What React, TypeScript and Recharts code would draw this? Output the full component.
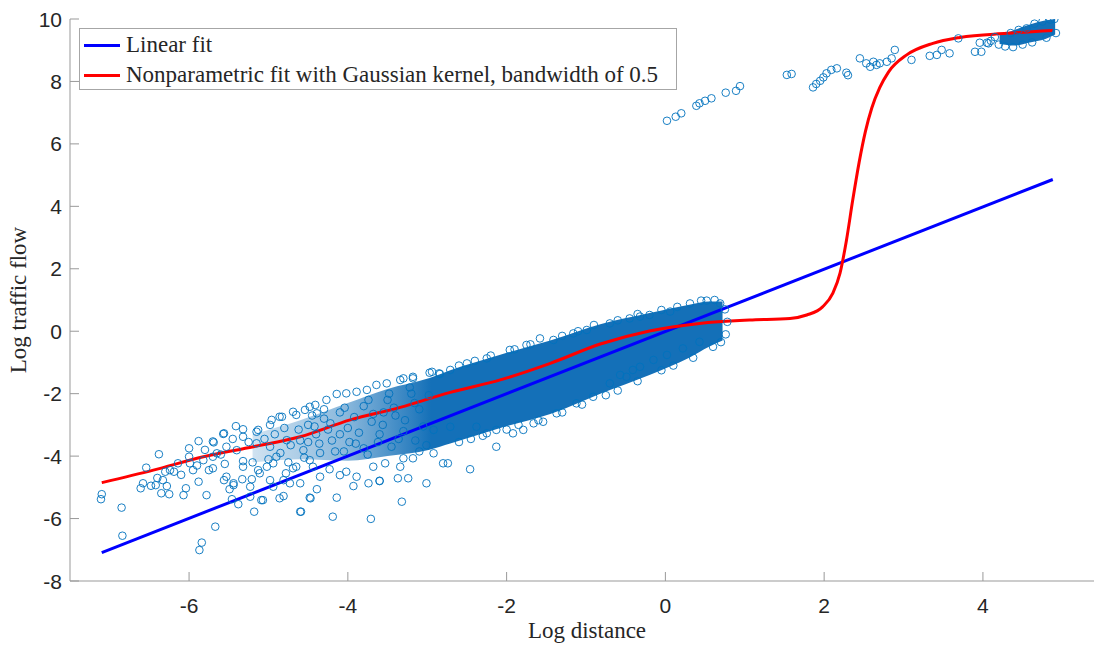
import { Area, ComposedChart, Line, Scatter, XAxis, YAxis } from "recharts";

const xTicks = [-6, -4, -2, 0, 2, 4];
const yTicks = [-8, -6, -4, -2, 0, 2, 4, 6, 8, 10];

// fitted curves
const linearFit = [
  { x: -7.1, y: -7.09 },
  { x: 4.88, y: 4.86 }
];

const kernelFit = [
  { x: -7.1, y: -4.85 }, { x: -6.45, y: -4.45 }, { x: -5.82, y: -4.02 }, { x: -5.19, y: -3.7 },
  { x: -4.6, y: -3.38 }, { x: -3.97, y: -2.84 }, { x: -3.34, y: -2.44 }, { x: -2.71, y: -1.96 },
  { x: -2.08, y: -1.56 }, { x: -1.45, y: -1.03 }, { x: -0.82, y: -0.41 }, { x: -0.2, y: 0.01 },
  { x: 0.43, y: 0.25 }, { x: 1.06, y: 0.36 }, { x: 1.57, y: 0.41 }, { x: 1.78, y: 0.52 },
  { x: 1.98, y: 0.78 }, { x: 2.11, y: 1.22 }, { x: 2.2, y: 1.86 }, { x: 2.28, y: 2.9 },
  { x: 2.36, y: 4.2 }, { x: 2.44, y: 5.4 }, { x: 2.52, y: 6.4 }, { x: 2.6, y: 7.15 },
  { x: 2.7, y: 7.8 }, { x: 2.81, y: 8.3 }, { x: 3.04, y: 8.85 }, { x: 3.37, y: 9.22 },
  { x: 3.71, y: 9.41 }, { x: 4.3, y: 9.54 }, { x: 4.88, y: 9.63 }
];

// solid core of the point cloud, [low, high]
const denseBand = [
  { x: -5.2, band: [-4.2, -3.3] }, { x: -4.6, band: [-4.1, -2.85] }, { x: -4.0, band: [-4.15, -2.3] },
  { x: -3.5, band: [-4.0, -1.85] }, { x: -2.97, band: [-3.8, -1.5] }, { x: -2.71, band: [-3.6, -1.25] },
  { x: -2.08, band: [-3.1, -0.75] }, { x: -1.45, band: [-2.65, -0.3] }, { x: -0.82, band: [-2.0, 0.22] },
  { x: -0.2, band: [-1.4, 0.58] }, { x: 0.3, band: [-0.85, 0.85] }, { x: 0.55, band: [-0.5, 0.95] },
  { x: 0.72, band: [-0.3, 0.95] }
];

const topBand = [
  { x: 4.21, band: [9.2, 9.5] }, { x: 4.4, band: [9.15, 9.65] }, { x: 4.59, band: [9.25, 9.82] },
  { x: 4.78, band: [9.35, 9.95] }, { x: 4.91, band: [9.5, 10.0] }
];

// individual circles
const lowTail = [
  [-7.11, -5.38], [-7.1, -5.22], [-6.85, -5.65], [-6.84, -6.55], [-6.61, -5.03], [-6.58, -4.87],
  [-6.54, -4.37], [-6.48, -4.95], [-6.42, -4.93], [-6.38, -3.94], [-6.35, -5.19], [-6.33, -4.77],
  [-6.28, -4.96], [-6.25, -5.22], [-6.3, -4.5], [-6.24, -4.45], [-6.19, -4.5], [-6.14, -4.23],
  [-6.07, -5.25], [-6.04, -5.03], [-6.0, -4.02], [-5.95, -4.45], [-5.88, -4.82], [-5.88, -3.52],
  [-5.84, -6.77], [-5.87, -7.01], [-5.78, -5.25], [-5.75, -4.45], [-5.7, -4.39], [-5.69, -3.56],
  [-5.67, -6.26], [-5.65, -3.91], [-5.56, -3.27], [-5.56, -4.77], [-5.53, -4.66], [-5.49, -5.06],
  [-5.46, -5.38], [-5.44, -4.93], [-5.41, -3.04], [-5.38, -5.54], [-5.33, -4.74], [-5.32, -4.16],
  [-5.23, -5.3], [-5.21, -4.74], [-5.18, -5.78], [-5.13, -4.45], [-5.09, -5.41], [-5.07, -5.41],
  [-5.02, -4.34], [-4.98, -4.77], [-4.94, -4.98], [-4.86, -5.35], [-4.81, -5.28], [-4.78, -4.55],
  [-4.73, -4.87], [-4.6, -5.78], [-4.48, -5.33], [-4.39, -5.06], [-2.46, -4.42], [-3.01, -4.87],
  [-3.32, -5.46], [-3.71, -6.01], [-4.19, -5.94], [-4.59, -5.78], [-2.13, -3.7], [-2.8, -4.23],
  [-3.37, -4.71], [-3.6, -4.8], [-3.93, -4.96], [-4.14, -5.33], [-4.47, -5.35], [-3.24, -4.71]
];

const midCloud = [
  [-5.32, -3.14], [-5.15, -3.22], [-4.98, -3.0], [-4.86, -2.74], [-4.65, -2.68], [-4.48, -2.42],
  [-4.39, -2.63], [-4.77, -3.49], [-4.56, -3.81], [-4.9, -4.02], [-4.65, -4.34], [-4.48, -4.13],
  [-4.98, -3.7], [-5.15, -3.59], [-5.4, -3.81], [-5.53, -3.7], [-5.7, -4.02], [-5.82, -4.13],
  [-5.99, -4.23], [-5.57, -3.29], [-5.7, -3.53], [-5.8, -3.8], [-5.55, -4.25], [-5.32, -3.38],
  [-5.13, -3.16], [-4.96, -2.84], [-4.83, -2.74], [-4.69, -2.58], [-4.54, -2.52], [-4.41, -2.36],
  [-4.27, -2.2], [-4.14, -2.01], [-4.02, -1.99], [-3.89, -1.94], [-3.76, -1.88], [-3.64, -1.72],
  [-3.51, -1.67], [-3.34, -1.56], [-3.18, -1.46], [-2.97, -1.33], [-2.84, -1.37], [-3.6, -4.79],
  [-3.74, -4.87], [-4.1, -4.61], [-4.35, -4.66], [-4.6, -4.87], [-4.81, -4.77], [-5.23, -4.98],
  [-5.44, -4.87], [-5.32, -4.34], [-5.11, -4.55], [-4.94, -4.23], [-4.69, -4.39], [-4.44, -4.34],
  [-4.23, -4.42], [-4.02, -4.5], [-3.89, -4.66], [-3.68, -4.34], [-3.53, -4.23], [-3.34, -4.34],
  [-3.18, -4.07], [-3.01, -3.65], [-2.74, -4.23], [-3.3, -4.07], [-2.92, -3.91], [-4.5, -3.0],
  [-4.4, -3.3], [-4.3, -2.8], [-4.2, -3.5], [-4.1, -2.6], [-4.0, -3.1], [-3.9, -3.6], [-3.8, -2.4],
  [-3.7, -2.9], [-3.6, -3.3], [-3.5, -2.2], [-3.45, -3.7], [-3.4, -2.7], [-3.3, -3.2], [-3.2, -2.0],
  [-3.15, -3.5], [-3.1, -2.5], [-4.6, -3.5], [-4.35, -3.9], [-4.05, -3.85], [-3.75, -3.95],
  [-3.55, -2.6], [-4.45, -2.7], [-4.25, -3.15], [-5.25, -3.55], [-5.05, -3.45], [-5.0, -4.1],
  [-4.92, -3.3], [-4.85, -3.9], [-4.8, -3.1], [-4.72, -3.65], [-4.62, -3.15], [-4.55, -4.05],
  [-4.5, -3.55], [-4.42, -3.05], [-4.36, -3.6], [-4.3, -2.5], [-4.22, -2.95], [-4.16, -3.85],
  [-4.1, -3.3], [-4.04, -2.45], [-3.98, -3.55], [-3.92, -2.75], [-3.86, -3.25], [-3.8, -3.75],
  [-3.74, -2.2], [-3.68, -2.65], [-3.62, -3.55], [-3.56, -3.0], [-3.48, -2.0], [-3.42, -2.45],
  [-3.36, -3.45], [-3.28, -2.85], [-3.22, -1.8], [-3.16, -2.3], [-3.1, -3.85], [-3.05, -3.05],
  [-2.98, -2.05], [-5.45, -3.45], [-5.6, -3.95], [-5.9, -4.3], [-6.1, -4.6], [-6.4, -4.7],
  [-6.0, -3.75], [-5.2, -4.2], [-4.75, -4.2]
];

const bandRim = [
  [-1.54, -2.9], [-1.92, -3.27], [-2.13, -3.16], [-2.38, -3.06], [-2.25, -3.27], [-1.37, -2.63],
  [-1.12, -2.31], [-0.91, -2.1], [-0.7, -1.67], [-0.49, -1.46], [-0.32, -1.14], [-2.71, -3.06],
  [-2.92, -3.16], [-1.66, -2.95], [-1.79, -3.16], [-1.58, -0.23], [-1.75, -0.44], [-1.96, -0.6],
  [-2.25, -0.87], [-2.5, -1.03], [-2.71, -1.24], [-2.94, -1.3], [-3.18, -1.51], [-3.3, -1.51],
  [-1.41, -0.28], [-1.16, -0.07], [-0.99, 0.04], [-0.7, 0.25], [-0.45, 0.41], [-0.32, 0.47],
  [-0.2, 0.52], [0.06, 0.63], [0.31, 0.89], [0.52, 0.98], [0.69, 0.89], [0.43, -0.34],
  [0.22, -0.55], [0.02, -0.76], [-0.15, -0.92], [-0.41, -1.24], [-0.57, -1.4],
  [-2.85, -1.35], [-2.6, -1.1], [-2.4, -0.95], [-2.2, -0.78], [-1.9, -0.58], [-1.7, -0.42],
  [-1.3, -0.15], [-1.1, 0.0], [-0.9, 0.2], [-0.6, 0.35], [-0.35, 0.55], [-0.05, 0.68],
  [0.15, 0.78], [0.45, 0.98], [0.62, 1.0], [0.75, 0.7], [0.78, 0.3], [0.76, -0.1],
  [-2.6, -3.55], [-2.45, -3.45], [-2.3, -3.35], [-2.0, -3.15], [-1.85, -3.0], [-1.6, -2.85],
  [-1.3, -2.6], [-1.05, -2.35], [-0.75, -2.05], [-0.6, -1.9], [-0.35, -1.6], [-0.05, -1.25],
  [0.1, -1.1], [0.35, -0.85], [0.6, -0.5], [0.7, -0.35]
];

const upperBranch = [
  [0.02, 6.74], [0.13, 6.87], [0.2, 6.98], [0.39, 7.22], [0.43, 7.3], [0.5, 7.38], [0.58, 7.46],
  [0.76, 7.64], [0.89, 7.7], [0.94, 7.85], [1.53, 8.21], [1.59, 8.24], [1.86, 7.81], [1.9, 7.92],
  [1.95, 8.02], [1.99, 8.13], [2.03, 8.26], [2.09, 8.37], [2.16, 8.42], [2.28, 8.28], [2.3, 8.2],
  [2.45, 8.74], [2.53, 8.58], [2.58, 8.47], [2.62, 8.63], [2.66, 8.53], [2.7, 8.58], [2.79, 8.63],
  [2.85, 8.74], [2.89, 9.01], [3.1, 8.69], [3.33, 8.82], [3.42, 8.85], [3.48, 9.01], [3.58, 8.9],
  [3.69, 9.38], [3.9, 8.95], [3.98, 8.95], [3.96, 9.24], [4.07, 9.22]
];

const topRim = [
  [4.1, 9.3], [4.15, 9.42], [4.2, 9.18], [4.28, 9.12], [4.35, 9.55], [4.45, 9.65], [4.55, 9.7],
  [4.65, 9.85], [4.75, 9.92], [4.85, 9.98], [4.9, 10.0], [4.92, 9.55], [4.5, 9.18], [4.62, 9.25],
  [4.8, 9.4], [4.38, 9.1], [4.05, 9.24]
];

const toPts = (list: number[][]) => list.map(([x, y]) => ({ x, y }));
const circles = [...lowTail, ...midCloud, ...bandRim, ...upperBranch, ...topRim];

const ptColor = "#0072BD";
const serif = "'Liberation Serif', 'Times New Roman', serif";
const sans = "'Liberation Sans', Arial, Helvetica, sans-serif";

const Ring = (p: any) => (
  <circle cx={p.cx} cy={p.cy} r={3.8} fill="none" stroke={ptColor} strokeWidth={0.9} />
);

const XTick = (p: any) => (
  <g>
    <line x1={p.x} y1={p.y} x2={p.x} y2={p.y - 9} stroke="#999" />
    <text x={p.x} y={p.y + 24} textAnchor="middle" dominantBaseline="central" fill="#262626" fontSize={21} fontFamily={sans}>
      {p.payload.value}
    </text>
  </g>
);

const YTick = (p: any) => (
  <g>
    <line x1={p.x} y1={p.y} x2={p.x + 9} y2={p.y} stroke="#999" />
    <text x={p.x - 8} y={p.y} textAnchor="end" dominantBaseline="central" fill="#262626" fontSize={21} fontFamily={sans}>
      {p.payload.value}
    </text>
  </g>
);

export default function App() {
  return (
    <div style={{ position: "absolute", left: 0, top: 0, width: 1094, height: 645, overflow: "hidden", background: "#fff" }}>
      <ComposedChart width={1102} height={645} margin={{ top: 19, right: 0, bottom: 24, left: 10 }}>
        <defs>
          <linearGradient id="cloudFade" x1="0" y1="0" x2="1" y2="0">
            <stop offset="0" stopColor="#1470B8" stopOpacity={0.2} />
            <stop offset="0.2" stopColor="#1470B8" stopOpacity={0.5} />
            <stop offset="0.38" stopColor="#1470B8" stopOpacity={1} />
            <stop offset="1" stopColor="#1470B8" stopOpacity={1} />
          </linearGradient>
        </defs>
        <XAxis
          type="number"
          dataKey="x"
          domain={[-7.5, 5.5]}
          ticks={xTicks}
          allowDataOverflow
          height={40}
          tickSize={0}
          tickMargin={0}
          axisLine={{ stroke: "#999" }}
          tick={<XTick />}
        />
        <YAxis
          type="number"
          dataKey="y"
          domain={[-8, 10]}
          ticks={yTicks}
          allowDataOverflow
          width={60}
          tickSize={0}
          tickMargin={0}
          axisLine={{ stroke: "#999" }}
          tick={<YTick />}
        />
        <Area
          data={denseBand}
          dataKey="band"
          type="monotone"
          stroke="none"
          fill="url(#cloudFade)"
          fillOpacity={1}
          dot={false}
          activeDot={false}
          isAnimationActive={false}
        />
        <Area
          data={topBand}
          dataKey="band"
          type="monotone"
          stroke="none"
          fill="#1470B8"
          fillOpacity={1}
          dot={false}
          activeDot={false}
          isAnimationActive={false}
        />
        <Scatter data={toPts(circles)} dataKey="y" shape={Ring} isAnimationActive={false} />
        <Line
          data={linearFit}
          dataKey="y"
          type="linear"
          stroke="#0000FF"
          strokeWidth={3}
          dot={false}
          activeDot={false}
          isAnimationActive={false}
        />
        <Line
          data={kernelFit}
          dataKey="y"
          type="monotone"
          stroke="#FF0000"
          strokeWidth={3}
          dot={false}
          activeDot={false}
          isAnimationActive={false}
        />
        <text x={587} y={638} textAnchor="middle" fontFamily={serif} fontSize={23} fill="#262626">
          Log distance
        </text>
        <text
          x={26}
          y={300}
          textAnchor="middle"
          fontFamily={serif}
          fontSize={23}
          fill="#262626"
          transform="rotate(-90 26 300)"
        >
          Log traffic flow
        </text>
      </ComposedChart>

      <div
        style={{
          position: "absolute",
          left: 79,
          top: 28,
          width: 598,
          height: 62,
          border: "1px solid #a6a6a6",
          background: "#fff",
          fontFamily: serif,
          fontSize: 23,
          color: "#262626",
          boxSizing: "border-box"
        }}
      >
        {[
          { name: "Linear fit", color: "#0000FF" },
          { name: "Nonparametric fit with Gaussian kernel, bandwidth of 0.5", color: "#FF0000" }
        ].map((item, i) => (
          <div key={item.name} style={{ position: "absolute", left: 4, top: 2 + i * 30, height: 28, display: "flex", alignItems: "center", whiteSpace: "nowrap" }}>
            <span style={{ display: "inline-block", width: 36, height: 3, background: item.color, marginRight: 6 }} />
            <span>{item.name}</span>
          </div>
        ))}
      </div>
    </div>
  );
}
